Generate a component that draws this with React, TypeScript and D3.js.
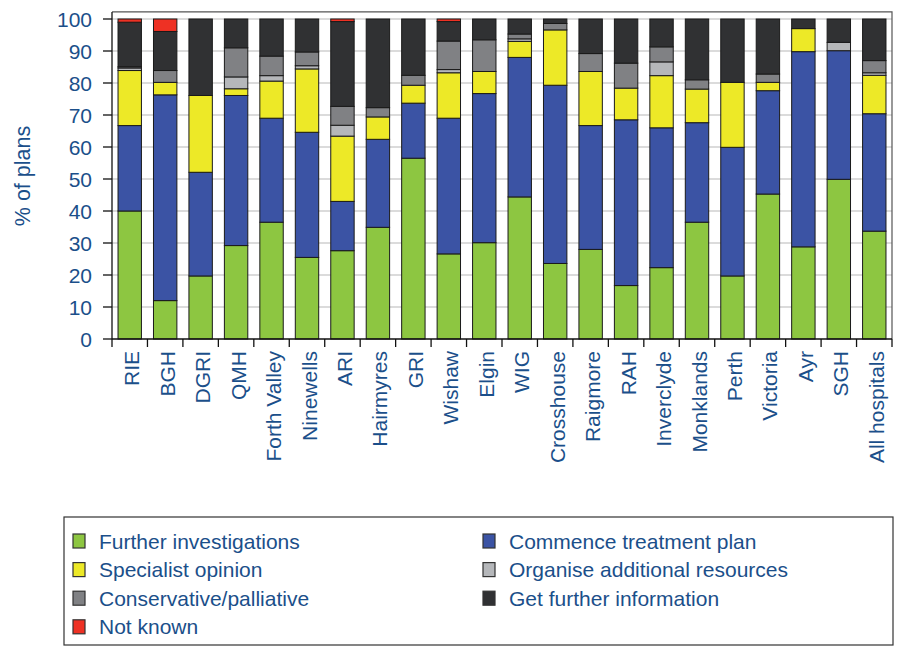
import { useEffect, useRef } from 'react';
import * as d3 from 'd3';

const hospitals = [
  'RIE', 'BGH', 'DGRI', 'QMH', 'Forth Valley', 'Ninewells', 'ARI', 'Hairmyres', 'GRI', 'Wishaw', 'Elgin',
  'WIG', 'Crosshouse', 'Raigmore', 'RAH', 'Inverclyde', 'Monklands', 'Perth', 'Victoria', 'Ayr', 'SGH', 'All hospitals',
];

const furtherInvestigations = [40.0, 12.0, 19.7, 29.2, 36.5, 25.5, 27.6, 34.9, 56.5, 26.6, 30.1, 44.4, 23.6, 28.0, 16.7, 22.3, 36.5, 19.7, 45.3, 28.8, 49.9, 33.7];
const commenceTreatment = [26.7, 64.3, 32.4, 46.9, 32.5, 39.1, 15.4, 27.5, 17.2, 42.4, 46.6, 43.6, 55.7, 38.7, 51.8, 43.7, 31.1, 40.2, 32.3, 61.0, 40.2, 36.7];
const specialistOpinion = [17.2, 3.9, 24.0, 2.1, 11.6, 19.8, 20.4, 7.0, 5.6, 14.2, 6.9, 5.0, 17.3, 16.9, 9.9, 16.3, 10.5, 20.3, 2.6, 7.2, 0, 12.0];
const organiseResources = [0.8, 0, 0, 3.7, 1.7, 1.0, 3.4, 0, 0, 1.0, 0, 0.8, 0, 0, 0, 4.3, 0, 0, 0, 0, 2.6, 0.8];
const conservative = [0.4, 3.7, 0, 9.1, 6.1, 4.3, 5.9, 2.9, 3.1, 8.9, 9.9, 1.5, 2.0, 5.6, 7.8, 4.7, 2.9, 0, 2.6, 0, 0, 3.8];
const furtherInformation = [13.9, 12.2, 23.9, 9.0, 11.6, 10.3, 26.5, 27.7, 17.6, 6.1, 6.5, 4.7, 1.4, 10.8, 13.8, 8.7, 19.0, 19.8, 17.2, 3.0, 7.3, 13.0];
const notKnown = [1.0, 3.9, 0, 0, 0, 0, 0.8, 0, 0, 0.8, 0, 0, 0, 0, 0, 0, 0, 0, 0, 0, 0, 0];

const yTicks = [0, 10, 20, 30, 40, 50, 60, 70, 80, 90, 100];

// stacking order bottom -> top
const series = [
  { key: 'fi', label: 'Further investigations', values: furtherInvestigations, color: '#8dc641' },
  { key: 'ct', label: 'Commence treatment plan', values: commenceTreatment, color: '#3b53a4' },
  { key: 'so', label: 'Specialist opinion', values: specialistOpinion, color: '#ede927' },
  { key: 'or', label: 'Organise additional resources', values: organiseResources, color: '#b5b7ba' },
  { key: 'cp', label: 'Conservative/palliative', values: conservative, color: '#808184' },
  { key: 'gi', label: 'Get further information', values: furtherInformation, color: '#303133' },
  { key: 'nk', label: 'Not known', values: notKnown, color: '#ee3124' },
];

// legend layout order (row-wise, two columns)
const legendOrder = ['fi', 'ct', 'so', 'or', 'cp', 'gi', 'nk'];

const textBlue = '#1b4f8a';
const font = '"Liberation Sans", Arial, sans-serif';

const App = () => {
  const ref = useRef<SVGSVGElement>(null);

  useEffect(() => {
    const svg = d3.select(ref.current);
    svg.selectAll('*').remove();

    const left = 112, right = 892, bottom = 339, top100 = 19;

    const x = d3.scaleBand().domain(hospitals).range([left, right]).paddingInner(0.34).paddingOuter(0.17);
    const y = d3.scaleLinear().domain([0, 100]).range([bottom, top100]);
    const frameTop = y(102.2);

    // gridlines
    svg.append('g')
      .selectAll('line')
      .data(yTicks.slice(1))
      .join('line')
      .attr('x1', left).attr('x2', right)
      .attr('y1', (d) => y(d)).attr('y2', (d) => y(d))
      .attr('stroke', '#cfcfcf')
      .attr('stroke-width', 1.5);

    // frame (top + right)
    svg.append('path')
      .attr('d', `M${left},${frameTop}H${right}V${bottom}`)
      .attr('fill', 'none')
      .attr('stroke', '#555')
      .attr('stroke-width', 1.2);

    const table = hospitals.map((h, i) => {
      const row: any = { hospital: h };
      series.forEach((s) => (row[s.key] = s.values[i]));
      return row;
    });
    const stacked = d3.stack().keys(series.map((s) => s.key))(table);

    stacked.forEach((layer, li) => {
      svg.append('g')
        .selectAll('rect')
        .data(layer.filter((d) => d[1] - d[0] > 0))
        .join('rect')
        .attr('x', (d: any) => x(d.data.hospital)!)
        .attr('width', x.bandwidth())
        .attr('y', (d) => y(d[1]))
        .attr('height', (d) => y(d[0]) - y(d[1]))
        .attr('fill', series[li].color)
        .attr('stroke', '#1a1a1a')
        .attr('stroke-width', 1);
    });

    // y axis
    const yAxis = svg.append('g').attr('transform', `translate(${left},0)`);
    yAxis.append('line')
      .attr('x1', 0).attr('x2', 0).attr('y1', frameTop).attr('y2', bottom)
      .attr('stroke', '#111').attr('stroke-width', 1.3);
    yAxis.selectAll('line.tick')
      .data(yTicks)
      .join('line')
      .attr('class', 'tick')
      .attr('x1', -9).attr('x2', 0)
      .attr('y1', (d) => y(d)).attr('y2', (d) => y(d))
      .attr('stroke', '#111').attr('stroke-width', 1.3);
    yAxis.selectAll('text')
      .data(yTicks)
      .join('text')
      .attr('x', -20)
      .attr('y', (d) => y(d))
      .attr('dy', '0.36em')
      .attr('text-anchor', 'end')
      .attr('font-family', font)
      .attr('font-size', 21)
      .attr('fill', textBlue)
      .text((d) => d);

    svg.append('text')
      .attr('transform', `translate(22,176) rotate(-90)`)
      .attr('dy', '0.35em')
      .attr('text-anchor', 'middle')
      .attr('font-family', font)
      .attr('font-size', 21.5)
      .attr('fill', textBlue)
      .text('% of plans');

    // x axis
    const step = x.step();
    const x0 = x.range()[0];
    const bounds = d3.range(hospitals.length + 1).map((i) => x0 + i * step);
    const xAxis = svg.append('g');
    xAxis.append('line')
      .attr('x1', left).attr('x2', right).attr('y1', bottom).attr('y2', bottom)
      .attr('stroke', '#111').attr('stroke-width', 1.3);
    xAxis.selectAll('line.tick')
      .data(bounds)
      .join('line')
      .attr('class', 'tick')
      .attr('x1', (d) => d).attr('x2', (d) => d)
      .attr('y1', bottom).attr('y2', bottom + 8)
      .attr('stroke', '#111').attr('stroke-width', 1.3);
    xAxis.selectAll('text')
      .data(hospitals)
      .join('text')
      .attr('transform', (d) => `translate(${x(d)! + x.bandwidth() / 2 + 2},${bottom + 12}) rotate(-90)`)
      .attr('dy', '0.36em')
      .attr('text-anchor', 'end')
      .attr('font-family', font)
      .attr('font-size', 21)
      .attr('fill', textBlue)
      .text((d) => d);

    // legend
    const lg = svg.append('g');
    lg.append('rect')
      .attr('x', 64).attr('y', 517).attr('width', 829).attr('height', 128)
      .attr('fill', 'white').attr('stroke', '#333').attr('stroke-width', 1.2);
    const items = legendOrder.map((k) => series.find((s) => s.key === k)!);
    const item = lg.selectAll('g.item')
      .data(items)
      .join('g')
      .attr('class', 'item')
      .attr('transform', (_d, i) => `translate(${i % 2 === 0 ? 73 : 483},${541 + Math.floor(i / 2) * 28.6})`);
    item.append('rect')
      .attr('x', 0).attr('y', -7).attr('width', 12).attr('height', 14)
      .attr('fill', (d) => d.color)
      .attr('stroke', '#333').attr('stroke-width', 1.2);
    item.append('text')
      .attr('x', 26)
      .attr('dy', '0.36em')
      .attr('font-family', font)
      .attr('font-size', 21)
      .attr('fill', textBlue)
      .text((d) => d.label);
  }, []);

  return (
    <svg
      ref={ref}
      width={898}
      height={650}
      style={{ position: 'absolute', left: 0, top: 0, background: 'white' }}
    />
  );
};

export default App;
